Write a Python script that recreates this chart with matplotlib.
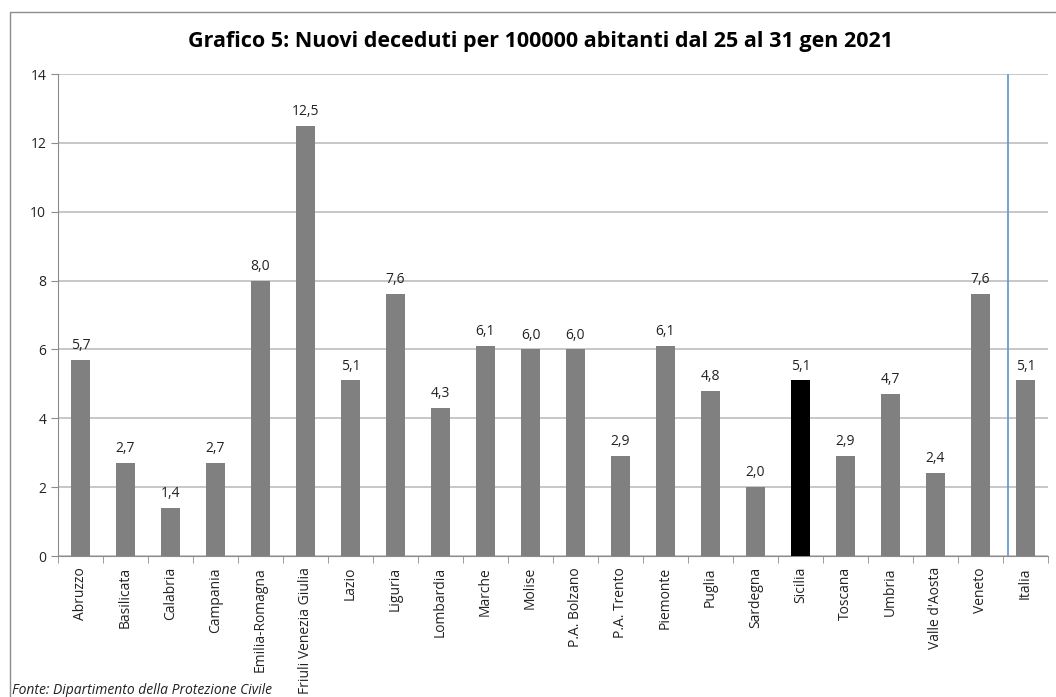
import matplotlib.pyplot as plt
import numpy as np
from matplotlib.patches import Rectangle

# dati
regioni = ['Abruzzo', 'Basilicata', 'Calabria', 'Campania', 'Emilia-Romagna',
           'Friuli Venezia Giulia', 'Lazio', 'Liguria', 'Lombardia', 'Marche',
           'Molise', 'P.A. Bolzano', 'P.A. Trento', 'Piemonte', 'Puglia',
           'Sardegna', 'Sicilia', 'Toscana', 'Umbria', "Valle d'Aosta",
           'Veneto', 'Italia']
valori = [5.7, 2.7, 1.4, 2.7, 8.0, 12.5, 5.1, 7.6, 4.3, 6.1, 6.0, 6.0, 2.9,
          6.1, 4.8, 2.0, 5.1, 2.9, 4.7, 2.4, 7.6, 5.1]
evidenziata = 'Sicilia'

plt.rcParams['font.family'] = ['Open Sans', 'DejaVu Sans']

fig = plt.figure(figsize=(10.56, 6.97), dpi=100)
ax = fig.add_axes([58 / 1056, 1 - 556 / 697, 990 / 1056, 482 / 697])

# bordo del grafico
fig.patches.append(Rectangle((10 / 1056, -0.1), 1.2, 1.1 - 12 / 697,
                             transform=fig.transFigure, fill=False,
                             edgecolor='#8c8c8c', linewidth=1))

x = np.arange(len(regioni))
colori = ['black' if r == evidenziata else '#808080' for r in regioni]
ax.bar(x, valori, 0.41, color=colori, zorder=3)

for xi, v in zip(x, valori):
    ax.text(xi, v + 0.2, f'{v:.1f}'.replace('.', ','), ha='center', va='bottom',
            fontsize=10, color='#222222')

ax.set_xlim(-0.5, len(regioni) - 0.5)
ax.set_ylim(0, 14)
ax.set_yticks(np.arange(0, 15, 2))
ax.yaxis.grid(True, color='#bdbdbd', linewidth=1.2, zorder=0)
ax.set_xticks(x)
ax.set_xticklabels(regioni, rotation=90, fontsize=10, color='#222222')
ax.set_xticks(np.arange(-0.5, len(regioni), 1), minor=True)
ax.tick_params(axis='x', which='major', length=0, pad=8)
ax.tick_params(axis='x', which='minor', length=5, color='#8c8c8c')
ax.tick_params(axis='y', length=5, color='#8c8c8c', labelsize=10, labelcolor='#222222')

for s in ['top', 'right']:
    ax.spines[s].set_visible(False)
for s in ['left', 'bottom']:
    ax.spines[s].set_color('#8c8c8c')

# separatore Italia
ax.axvline(20.6, color='#6a9bd8', linewidth=1.3, zorder=4)

fig.text(540 / 1056, 1 - 42 / 697,
         'Grafico 5: Nuovi deceduti per 100000 abitanti dal 25 al 31 gen 2021',
         ha='center', va='center', fontsize=15.5, fontweight='bold')
fig.text(12 / 1056, 1 - 690 / 697, 'Fonte: Dipartimento della Protezione Civile',
         ha='left', va='center', fontsize=10, style='italic', color='#222222')

plt.savefig('out.png', dpi=100)
